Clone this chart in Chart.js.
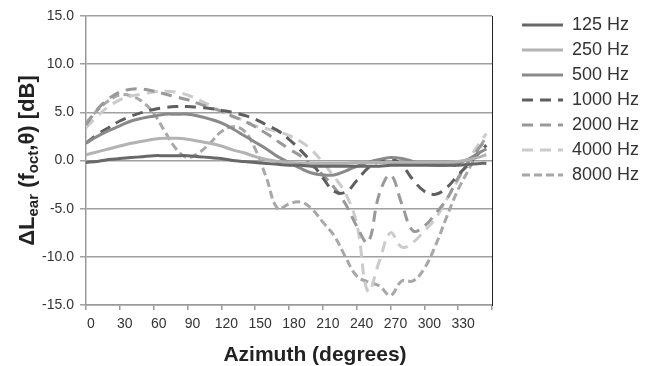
<!DOCTYPE html>
<html>
<head>
<meta charset="utf-8">
<script src="https://cdn.jsdelivr.net/npm/chart.js@4"></script>
<style>
  html, body { margin: 0; padding: 0; background: #fff; }
  #wrap { width: 663px; height: 366px; position: relative; }
</style>
</head>
<body>
<div id="wrap"><canvas id="earChart"></canvas></div>
<script>
// azimuth angles (degrees) shared by every series
const azimuth = [0, 10, 20, 30, 40, 50, 60, 70, 80, 90, 100, 110, 120, 130, 140, 150, 160, 170, 180, 190,
    200, 210, 220, 230, 240, 250, 260, 270, 280, 290, 300, 310, 320, 330, 340, 350, 355];

const seriesNames = ['125 Hz', '250 Hz', '500 Hz', '1000 Hz', '2000 Hz', '4000 Hz', '8000 Hz'];

// values, dB
const hz125 = [-0.2, -0.1, 0.1, 0.2, 0.3, 0.4, 0.5, 0.5, 0.5, 0.5, 0.4, 0.3, 0.2, 0.0, -0.1, -0.2, -0.3, -0.4, -0.5, -0.5,
    -0.6, -0.6, -0.6, -0.6, -0.6, -0.6, -0.6, -0.5, -0.5, -0.5, -0.5, -0.5, -0.5, -0.5, -0.4, -0.3, -0.3];
const hz250 = [0.6, 0.9, 1.2, 1.5, 1.8, 2.0, 2.2, 2.3, 2.3, 2.2, 2.0, 1.8, 1.5, 1.1, 0.8, 0.4, 0.1, -0.1, -0.2, -0.3,
    -0.3, -0.3, -0.3, -0.3, -0.2, -0.2, -0.2, -0.2, -0.2, -0.2, -0.2, -0.2, -0.2, -0.1, 0.1, 0.4, 0.6];
const hz500 = [1.8, 2.5, 3.1, 3.6, 4.1, 4.4, 4.6, 4.8, 4.8, 4.8, 4.6, 4.3, 3.9, 3.3, 2.6, 1.9, 1.2, 0.4, -0.2, -0.8,
    -1.3, -1.5, -1.5, -1.1, -0.6, -0.2, 0.1, 0.3, 0.2, -0.1, -0.4, -0.5, -0.5, -0.3, 0.2, 0.9, 1.2];
const hz1000 = [1.8, 2.7, 3.4, 4.1, 4.6, 5.0, 5.3, 5.5, 5.6, 5.6, 5.5, 5.4, 5.2, 5.0, 4.7, 4.3, 3.7, 3.1, 2.2, 1.1,
    -0.2, -1.8, -3.2, -3.3, -2.1, -0.8, -0.1, 0.2, -0.5, -2.0, -3.2, -3.5, -2.8, -1.5, -0.3, 1.0, 1.6];
const hz2000 = [3.7, 5.3, 6.4, 7.1, 7.4, 7.4, 7.2, 6.9, 6.6, 6.3, 5.9, 5.5, 5.1, 4.6, 4.1, 3.5, 2.8, 2.0, 1.2, 0.5,
    -0.5, -1.5, -2.8, -4.5, -6.8, -8.5, -3.5, -1.5, -4.5, -7.3, -6.8, -5.5, -4.0, -1.8, 0.0, 1.5, 2.2];
const hz4000 = [3.4, 4.6, 5.6, 6.3, 6.7, 6.9, 7.1, 7.2, 7.1, 6.8, 6.3, 5.7, 5.1, 4.5, 4.2, 3.6, 3.3, 3.0, 2.6, 2.0,
    1.1, -0.2, -1.7, -3.4, -6.5, -13.6, -10.5, -7.5, -9.0, -8.5, -7.3, -6.0, -4.0, -2.0, 0.2, 2.0, 2.8];
const hz8000 = [3.9, 5.2, 6.2, 6.8, 6.7, 6.1, 4.9, 3.0, 1.2, 0.3, 0.8, 1.8, 3.0, 3.5, 3.1, 1.2, -1.8, -5.0, -4.5, -4.3,
    -5.0, -6.4, -7.8, -10.0, -12.0, -12.6, -13.0, -14.0, -12.5, -12.5, -11.2, -8.8, -5.8, -3.0, -0.8, 1.5, 2.5];

const yTicks = [-15, -10, -5, 0, 5, 10, 15];
const xTicks = [0, 30, 60, 90, 120, 150, 180, 210, 240, 270, 300, 330, 360];

const FONT = "'Liberation Sans', Arial, sans-serif";
Chart.defaults.font.family = FONT;
Chart.defaults.color = '#333';

function pts(values) {
    return values.map((v, i) => ({ x: azimuth[i], y: v }));
}

function line(name, values, color, dash) {
    return {
        label: name,
        data: pts(values),
        borderColor: color,
        backgroundColor: color,
        borderWidth: 3,
        borderDash: dash,
        pointRadius: 0,
        tension: 0.4,
        fill: false
    };
}

const datasets = [
    line(seriesNames[0], hz125, '#686868', []),
    line(seriesNames[1], hz250, '#b3b3b3', []),
    line(seriesNames[2], hz500, '#8a8a8a', []),
    line(seriesNames[3], hz1000, '#5e5e5e', [11, 7]),
    line(seriesNames[4], hz2000, '#999999', [11, 7]),
    line(seriesNames[5], hz4000, '#cbcbcb', [11, 7]),
    line(seriesNames[6], hz8000, '#a8a8a8', [8, 4])
];

// legend samples: keep the dataset dash (point style would drop it)
const baseLabels = Chart.defaults.plugins.legend.labels.generateLabels;
function legendLabels(chart) {
    return baseLabels(chart).map((item, i) => {
        const ds = chart.data.datasets[i];
        item.lineDash = ds.borderDash;
        item.lineWidth = 3;
        item.strokeStyle = ds.borderColor;
        return item;
    });
}

// axis titles (y one has subscripts, so draw it by hand)
const axisTitles = {
    id: 'axisTitles',
    afterDraw(chart) {
        const ctx = chart.ctx;
        const area = chart.chartArea;
        ctx.save();
        ctx.fillStyle = '#222';
        ctx.textBaseline = 'alphabetic';

        ctx.font = `bold 21px ${FONT}`;
        ctx.textAlign = 'center';
        ctx.fillText('Azimuth (degrees)', area.left + 229, 361);

        const main = `bold 22px ${FONT}`;
        const sub = `bold 15px ${FONT}`;
        const parts = [
            ['ΔL', main, 0], ['ear', sub, 4], [' (f', main, 0], ['oct', sub, 4], [',θ) [dB]', main, 0]
        ];
        let total = 0;
        parts.forEach(p => { ctx.font = p[1]; total += ctx.measureText(p[0]).width; });
        ctx.translate(34, (area.top + area.bottom) / 2);
        ctx.rotate(-Math.PI / 2);
        ctx.textAlign = 'left';
        let x = -total / 2;
        parts.forEach(p => {
            ctx.font = p[1];
            ctx.fillText(p[0], x, p[2]);
            x += ctx.measureText(p[0]).width;
        });
        ctx.restore();
    }
};

new Chart(document.getElementById('earChart'), {
    type: 'line',
    data: { datasets: datasets },
    plugins: [axisTitles],
    options: {
        responsive: true,
        maintainAspectRatio: false,
        animation: false,
        layout: { padding: { top: 9, right: 24, bottom: 0, left: 0 } },
        plugins: {
            tooltip: { enabled: false },
            legend: {
                position: 'right',
                align: 'start',
                maxWidth: 124,
                labels: {
                    usePointStyle: true,
                    pointStyle: 'line',
                    pointStyleWidth: 41,
                    boxWidth: 41,
                    padding: 7,
                    color: '#333',
                    font: { size: 18 },
                    generateLabels: legendLabels
                }
            }
        },
        scales: {
            x: {
                type: 'linear',
                min: 0,
                max: 360,
                afterBuildTicks: s => { s.ticks = xTicks.map(v => ({ value: v })); },
                afterFit: s => { s.height = 61; },
                grid: { drawOnChartArea: false, drawTicks: true, tickLength: 5, color: '#9a9a9a', lineWidth: 1.5 },
                border: { color: '#9a9a9a', width: 1.5 },
                ticks: {
                    padding: 6,
                    labelOffset: 5,
                    maxRotation: 0,
                    autoSkip: false,
                    color: '#333',
                    font: { size: 14 },
                    callback: v => (v === 360 ? '' : v)
                }
            },
            xTop: {
                type: 'linear',
                position: 'top',
                afterFit: s => { s.height = 7; },
                grid: { display: false },
                border: { display: false },
                ticks: { display: false }
            },
            y: {
                min: -15,
                max: 15,
                afterBuildTicks: s => { s.ticks = yTicks.map(v => ({ value: v })); },
                afterFit: s => { s.width = 86; },
                grid: { color: '#a0a0a0', lineWidth: 1.5, tickLength: 6 },
                border: { color: '#9a9a9a', width: 1.5 },
                ticks: {
                    padding: 6,
                    color: '#333',
                    font: { size: 14 },
                    callback: v => v.toFixed(1)
                }
            },
            yRight: {
                type: 'linear',
                position: 'right',
                afterFit: s => { s.width = 23; },
                grid: { display: false },
                border: { color: '#222', width: 1 },
                ticks: { display: false }
            }
        }
    }
});
</script>
</body>
</html>
